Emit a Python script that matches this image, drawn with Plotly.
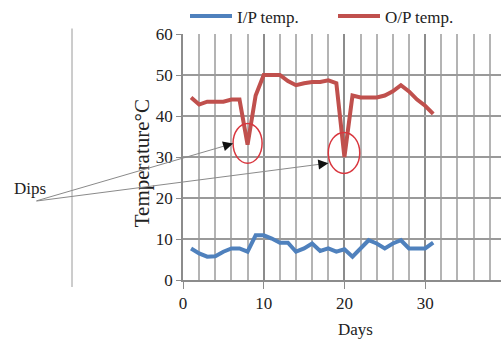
import plotly.graph_objects as go

days = list(range(1, 32))
ip_temp = [7.7, 6.5, 5.7, 5.8, 6.9, 7.7, 7.7, 6.9, 10.9, 10.9, 10.1, 9.1, 9.1, 6.9, 7.7, 8.9,
           7.1, 7.7, 6.9, 7.5, 5.7, 7.7, 9.7, 8.9, 7.7, 8.9, 9.7, 7.7, 7.7, 7.7, 9.1]
op_temp = [44.5, 42.8, 43.5, 43.5, 43.5, 44, 44, 33, 45, 50, 50, 50, 48.5, 47.5, 48, 48.3,
           48.3, 48.7, 48, 30, 45, 44.5, 44.5, 44.5, 45, 46, 47.5, 46, 44, 42.5, 40.5]
series_names = ["I/P temp.", "O/P temp."]
x_ticks = [0, 10, 20, 30]
y_ticks = [0, 10, 20, 30, 40, 50, 60]

W, H = 501, 343
L, R, T, B = 183, 0, 33.5, 63
pw, ph = W - L - R, H - T - B
XMAX = 39.4

def px(xp):
    return (xp - L) / pw

def py(yp):
    return (H - B - yp) / ph

FONT = "Liberation Serif"

fig = go.Figure()
fig.add_trace(go.Scatter(x=days, y=ip_temp, mode="lines", name=series_names[0],
                         line=dict(color="#4F81BD", width=4)))
fig.add_trace(go.Scatter(x=days, y=op_temp, mode="lines", name=series_names[1],
                         line=dict(color="#C0504D", width=4)))

fig.update_layout(
    width=W, height=H,
    margin=dict(l=L, r=R, t=T, b=B, pad=0, autoexpand=False),
    paper_bgcolor="white", plot_bgcolor="white",
    font=dict(family=FONT, size=17, color="#222"),
    showlegend=True,
    legend=dict(orientation="h", x=px(185), y=py(-2), xanchor="left", yanchor="top",
                font=dict(family=FONT, size=17, color="#222"),
                bgcolor="rgba(0,0,0,0)", itemwidth=42, tracegroupgap=0,
                entrywidth=91, entrywidthmode="pixels"),
    xaxis=dict(range=[0, XMAX], tickvals=x_ticks, showgrid=True, gridcolor="#8c8c8c", gridwidth=1.5,
               showline=True, linecolor="#8c8c8c", linewidth=1.5, ticks="outside", ticklen=7,
               tickcolor="#8c8c8c", zeroline=False,
               minor=dict(dtick=2, showgrid=True, gridcolor="#b4b4b4", gridwidth=1.5),
               tickfont=dict(family=FONT, size=17, color="#222")),
    yaxis=dict(range=[0, 60], tickvals=y_ticks, showgrid=True, gridcolor="#9a9a9a", gridwidth=2,
               showline=True, linecolor="#8c8c8c", linewidth=1.5, ticks="outside", ticklen=5,
               tickcolor="#8c8c8c", zeroline=False,
               tickfont=dict(family=FONT, size=17, color="#222")),
)

# Axis titles and label
fig.add_annotation(text="Temperature°C", xref="paper", yref="paper", x=px(142), y=py(163),
                   xanchor="center", yanchor="middle",
                   textangle=-90, showarrow=False, font=dict(family=FONT, size=21, color="#222"))
fig.add_annotation(text="Days", xref="paper", yref="paper", x=px(355), y=py(330),
                   xanchor="center", yanchor="middle",
                   showarrow=False, font=dict(family=FONT, size=17, color="#222"))
fig.add_annotation(text="Dips", xref="paper", yref="paper", x=px(30), y=py(188),
                   xanchor="center", yanchor="middle",
                   showarrow=False, font=dict(family=FONT, size=17, color="#222"))

# Red circles around dips
fig.add_shape(type="circle", xref="x", yref="y", x0=6.2, x1=9.8, y0=28.5, y1=38.2,
              line=dict(color="#d9363e", width=1.5))
fig.add_shape(type="circle", xref="x", yref="y", x0=18.0, x1=21.9, y0=26.0, y1=36.0,
              line=dict(color="#d9363e", width=1.5))

# Vertical separator line on left
fig.add_shape(type="line", xref="paper", yref="paper", x0=px(72), x1=px(72), y0=py(28), y1=py(287),
              line=dict(color="#9a9a9a", width=1))

# Arrows from "Dips" label to the dips
tail = (35, 201)
heads = [(6.2, 33.3), (18.0, 28.5)]
for hx, hy in heads:
    hxp = L + hx / XMAX * pw
    hyp = H - B - hy / 60 * ph
    dx, dy = tail[0] - hxp, tail[1] - hyp
    fig.add_annotation(x=hx, y=hy, xref="x", yref="y", ax=dx, ay=dy,
                       showarrow=True, arrowhead=0, arrowwidth=1, arrowcolor="#8a8a8a", text="")
    n = (dx ** 2 + dy ** 2) ** 0.5
    fig.add_annotation(x=hx, y=hy, xref="x", yref="y", ax=dx / n * 9, ay=dy / n * 9,
                       showarrow=True, arrowhead=2, arrowsize=1, arrowwidth=2, arrowcolor="#111",
                       text="")

fig.write_html("out.html", config={"displayModeBar": False},
               post_script="document.body.style.margin='0';document.body.style.overflow='hidden';")
